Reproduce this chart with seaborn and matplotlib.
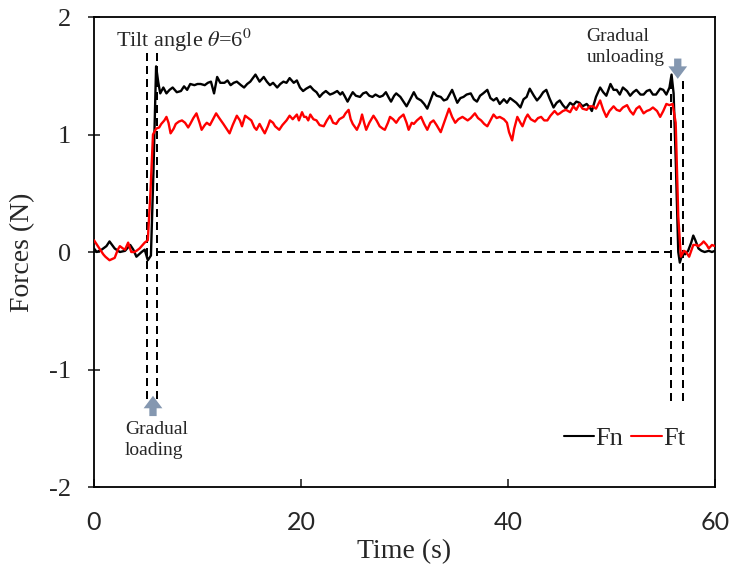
import numpy as np
import pandas as pd
import matplotlib
matplotlib.use("Agg")
import matplotlib.pyplot as plt
import seaborn as sns

# ---------------- data ----------------
fn_time = [0.0, 0.26, 0.74, 1.2, 1.5, 2.0, 2.5, 3.0, 3.5, 3.8, 4.1, 4.6, 4.9, 5.2, 5.5, 5.75, 6.0, 6.2, 6.4, 6.7,
           7.0, 7.3, 7.6, 8.0, 8.4, 8.7, 9.0, 9.3, 9.7, 10.0, 10.3, 10.7, 11.0, 11.3, 11.6, 11.9, 12.2, 12.6, 12.9, 13.2,
           13.5, 13.8, 14.2, 14.5, 14.8, 15.1, 15.6, 16.0, 16.4, 16.7, 17.0, 17.3, 17.7, 18.0, 18.3, 18.6, 18.9, 19.3, 19.6, 19.9,
           20.2, 20.5, 20.9, 21.2, 21.5, 21.8, 22.1, 22.4, 22.8, 23.1, 23.5, 23.8, 24.0, 24.2, 24.5, 24.8, 25.0, 25.3, 25.7, 26.0,
           26.3, 26.6, 26.9, 27.2, 27.6, 27.9, 28.2, 28.5, 28.7, 29.0, 29.2, 29.6, 29.9, 30.2, 30.5, 30.9, 31.2, 31.6, 31.9, 32.2,
           32.5, 32.8, 33.1, 33.5, 33.8, 34.1, 34.6, 35.1, 35.4, 35.7, 36.0, 36.4, 36.7, 37.0, 37.3, 37.6, 38.0, 38.3, 38.6, 38.9,
           39.2, 39.6, 39.9, 40.2, 40.5, 40.8, 41.2, 41.5, 41.8, 42.1, 42.5, 42.8, 43.1, 43.4, 43.7, 44.0, 44.4, 44.7, 45.0, 45.3,
           45.6, 46.0, 46.3, 46.6, 46.9, 47.2, 47.6, 47.9, 48.1, 48.5, 48.9, 49.2, 49.5, 49.9, 50.2, 50.5, 50.8, 51.1, 51.5, 51.8,
           52.1, 52.4, 52.8, 53.1, 53.4, 53.7, 54.0, 54.3, 54.7, 55.0, 55.3, 55.6, 55.8, 56.0, 56.2, 56.45, 56.6, 56.9, 57.1, 57.4,
           57.7, 57.9, 58.1, 58.4, 58.7, 59.0, 59.4, 59.7, 60.0]
fn_vals = [0.03, 0.0, 0.02, 0.05, 0.09, 0.03, 0.0, 0.01, 0.06, 0.02, -0.04, 0.0, 0.02, -0.07, -0.03, 0.7, 1.58, 1.45, 1.35, 1.40,
           1.35, 1.38, 1.40, 1.36, 1.37, 1.41, 1.38, 1.43, 1.42, 1.43, 1.43, 1.42, 1.44, 1.45, 1.35, 1.49, 1.44, 1.44, 1.46, 1.42,
           1.44, 1.45, 1.42, 1.40, 1.43, 1.45, 1.51, 1.45, 1.49, 1.45, 1.42, 1.44, 1.40, 1.43, 1.45, 1.44, 1.48, 1.44, 1.46, 1.40,
           1.37, 1.39, 1.41, 1.38, 1.36, 1.32, 1.35, 1.37, 1.34, 1.35, 1.37, 1.34, 1.36, 1.33, 1.28, 1.33, 1.36, 1.33, 1.32, 1.35,
           1.36, 1.33, 1.32, 1.34, 1.32, 1.33, 1.36, 1.31, 1.28, 1.33, 1.35, 1.32, 1.28, 1.24, 1.29, 1.36, 1.31, 1.29, 1.26, 1.22,
           1.29, 1.36, 1.33, 1.32, 1.29, 1.30, 1.38, 1.27, 1.31, 1.32, 1.34, 1.35, 1.30, 1.28, 1.33, 1.35, 1.38, 1.31, 1.29, 1.31,
           1.26, 1.30, 1.27, 1.31, 1.29, 1.27, 1.23, 1.30, 1.32, 1.39, 1.33, 1.29, 1.32, 1.36, 1.38, 1.31, 1.23, 1.27, 1.29, 1.25,
           1.22, 1.27, 1.25, 1.28, 1.27, 1.24, 1.26, 1.23, 1.20, 1.32, 1.40, 1.36, 1.33, 1.43, 1.38, 1.38, 1.34, 1.40, 1.37, 1.33,
           1.36, 1.38, 1.34, 1.34, 1.37, 1.38, 1.34, 1.34, 1.39, 1.38, 1.34, 1.40, 1.51, 1.35, 0.8, 0.0, -0.09, 0.0, -0.02, 0.01,
           0.08, 0.14, 0.10, 0.03, 0.01, 0.0, 0.01, 0.0, 0.01]

ft_time = [0.0, 0.3, 0.6, 0.9, 1.1, 1.5, 2.0, 2.3, 2.5, 2.8, 3.0, 3.3, 3.6, 3.9, 4.1, 4.4, 4.6, 4.9, 5.2, 5.45,
           5.7, 6.0, 6.3, 6.5, 6.8, 7.0, 7.2, 7.4, 7.7, 7.9, 8.2, 8.5, 8.8, 9.1, 9.3, 9.6, 9.9, 10.2, 10.4, 10.7,
           10.9, 11.2, 11.5, 11.8, 12.1, 12.5, 12.8, 13.1, 13.4, 13.8, 14.1, 14.3, 14.6, 14.9, 15.2, 15.5, 15.7, 16.0, 16.3, 16.5,
           16.8, 17.0, 17.3, 17.5, 17.9, 18.2, 18.6, 18.9, 19.2, 19.6, 19.8, 20.1, 20.3, 20.5, 20.7, 20.9, 21.2, 21.5, 21.8, 22.2,
           22.5, 22.8, 23.1, 23.4, 23.7, 24.1, 24.3, 24.6, 24.8, 25.0, 25.4, 25.7, 25.9, 26.1, 26.3, 26.6, 27.0, 27.3, 27.6, 27.9,
           28.1, 28.4, 28.6, 28.9, 29.2, 29.5, 29.9, 30.2, 30.4, 30.7, 30.9, 31.2, 31.6, 31.9, 32.2, 32.5, 32.8, 33.1, 33.5, 33.9,
           34.3, 34.6, 34.9, 35.2, 35.6, 36.1, 36.4, 36.8, 37.1, 37.4, 37.7, 38.0, 38.3, 38.6, 38.9, 39.2, 39.6, 39.9, 40.1, 40.4,
           40.6, 40.9, 41.2, 41.4, 41.7, 41.9, 42.2, 42.6, 42.9, 43.2, 43.5, 43.8, 44.1, 44.5, 44.8, 45.0, 45.3, 45.6, 46.0, 46.3,
           46.6, 46.9, 47.2, 47.6, 47.9, 48.2, 48.5, 48.9, 49.2, 49.5, 49.8, 50.2, 50.5, 50.8, 51.1, 51.5, 51.8, 52.1, 52.4, 52.7,
           53.1, 53.4, 53.7, 54.0, 54.4, 54.7, 55.0, 55.3, 55.6, 55.9, 56.2, 56.45, 56.7, 57.0, 57.2, 57.5, 57.9, 58.2, 58.4, 58.7,
           58.9, 59.2, 59.4, 59.7, 60.0]
ft_vals = [0.10, 0.06, 0.02, -0.02, -0.04, -0.07, -0.05, 0.02, 0.05, 0.03, 0.02, 0.08, 0.00, 0.0, 0.01, 0.03, 0.05, 0.08, 0.10, 0.5,
           1.0, 1.05, 1.06, 1.09, 1.12, 1.15, 1.10, 1.01, 1.05, 1.09, 1.11, 1.12, 1.10, 1.06, 1.09, 1.14, 1.18, 1.10, 1.04, 1.08,
           1.10, 1.08, 1.13, 1.18, 1.14, 1.09, 1.05, 1.01, 1.08, 1.16, 1.12, 1.07, 1.16, 1.14, 1.12, 1.06, 1.04, 1.09, 1.04, 1.01,
           1.07, 1.12, 1.10, 1.07, 1.04, 1.08, 1.12, 1.16, 1.13, 1.17, 1.12, 1.19, 1.15, 1.15, 1.12, 1.17, 1.13, 1.12, 1.08, 1.07,
           1.12, 1.16, 1.10, 1.09, 1.13, 1.15, 1.18, 1.21, 1.13, 1.09, 1.04, 1.10, 1.17, 1.10, 1.04, 1.10, 1.16, 1.12, 1.07, 1.05,
           1.04, 1.10, 1.15, 1.13, 1.10, 1.14, 1.17, 1.10, 1.04, 1.10, 1.09, 1.12, 1.15, 1.09, 1.04, 1.10, 1.12, 1.08, 1.02, 1.12,
           1.22, 1.15, 1.10, 1.13, 1.15, 1.12, 1.14, 1.18, 1.14, 1.12, 1.09, 1.07, 1.12, 1.17, 1.14, 1.15, 1.13, 1.10, 1.02, 0.95,
           1.05, 1.15, 1.10, 1.07, 1.14, 1.17, 1.13, 1.11, 1.14, 1.15, 1.12, 1.12, 1.16, 1.20, 1.17, 1.18, 1.20, 1.21, 1.19, 1.24,
           1.21, 1.26, 1.22, 1.21, 1.24, 1.24, 1.22, 1.29, 1.21, 1.15, 1.20, 1.24, 1.21, 1.20, 1.23, 1.25, 1.20, 1.17, 1.22, 1.24,
           1.18, 1.20, 1.21, 1.23, 1.20, 1.15, 1.20, 1.26, 1.25, 1.26, 1.1, 0.3, -0.04, 0.01, 0.0, -0.04, 0.06, 0.06, 0.05, 0.07,
           0.09, 0.06, 0.03, 0.06, 0.05]

series_names = ["Fn", "Ft"]
series_colors = ["#000000", "#FF0000"]
x_ticks = [0, 20, 40, 60]
y_ticks = [-2, -1, 0, 1, 2]
y_tick_labels = ["-2", "-1", "0", "1", "2"]
x_label = "Time (s)"
y_label = "Forces (N)"

# loading / unloading markers
load_lines = [5.1, 6.05]
unload_lines = [55.7, 56.9]

# ---------------- styling ----------------
sns.set_style("ticks")
plt.rcParams["font.family"] = ["Liberation Serif", "DejaVu Serif"]
plt.rcParams["mathtext.fontset"] = "stix"
plt.rcParams["axes.unicode_minus"] = False

fig = plt.figure(figsize=(7.32, 5.69), dpi=100)
ax = fig.add_axes([0.1284, 0.1441, 0.8484, 0.8260])

df = pd.concat([
    pd.DataFrame({"Time": fn_time, "Force": fn_vals, "Series": series_names[0]}),
    pd.DataFrame({"Time": ft_time, "Force": ft_vals, "Series": series_names[1]}),
])

dash = (0, (4, 2.5))
# dashed reference lines
ax.plot([6.05, 55.7], [0, 0], color="black", lw=1.44, linestyle=dash, zorder=1)
for xv in load_lines:
    ax.plot([xv, xv], [-1.25, 1.7], color="black", lw=1.44, linestyle=dash, zorder=1)
for xv in unload_lines:
    ax.plot([xv, xv], [-1.27, 1.47], color="black", lw=1.44, linestyle=dash, zorder=1)

sns.lineplot(data=df, x="Time", y="Force", hue="Series", palette=dict(zip(series_names, series_colors)),
             linewidth=1.7, sort=False, estimator=None, ax=ax, zorder=3)

ax.set_xlim(0, 60)
ax.set_ylim(-2, 2)
ax.set_xticks(x_ticks)
ax.set_xticklabels([str(v) for v in x_ticks], family="Lato", fontsize=18)
ax.set_yticks(y_ticks)
ax.set_yticklabels(y_tick_labels, fontsize=19)
ax.tick_params(axis="x", direction="in", length=6, width=1.2, pad=17)
ax.tick_params(axis="y", direction="inout", length=9, width=1.2, pad=12)
for sp in ax.spines.values():
    sp.set_linewidth(1.3)
    sp.set_color("black")

ax.set_xlabel(x_label, fontsize=20)
ax.set_ylabel(y_label, fontsize=20)
ax.xaxis.set_label_coords(0.5, -0.11)
ax.yaxis.set_label_coords(-0.095, 0.5)

# annotations
ax.text(2.1, 1.80, r"Tilt angle $\theta$=6$^0$", fontsize=16, va="center", ha="left")
ax.text(47.6, 1.745, "Gradual\nunloading", fontsize=14, va="center", ha="left", linespacing=1.25)
ax.text(3.0, -1.6, "Gradual\nloading", fontsize=14, va="center", ha="left", linespacing=1.25)

arrow_col = "#8497B0"
ax.annotate("", xy=(5.7, -1.2), xytext=(5.7, -1.42),
            arrowprops=dict(arrowstyle="simple,head_width=0.9,head_length=0.6,tail_width=0.35",
                            color=arrow_col, lw=0, mutation_scale=15))
ax.annotate("", xy=(56.4, 1.45), xytext=(56.4, 1.67),
            arrowprops=dict(arrowstyle="simple,head_width=0.9,head_length=0.6,tail_width=0.35",
                            color=arrow_col, lw=0, mutation_scale=15))

leg = ax.legend(loc="center right", bbox_to_anchor=(0.99, 0.104), ncol=2, frameon=False,
                fontsize=19, handlelength=1.15, handletextpad=0.05, columnspacing=0.3)
for h in leg.get_lines():
    h.set_linewidth(1.5)

fig.savefig("out.png", dpi=100)
